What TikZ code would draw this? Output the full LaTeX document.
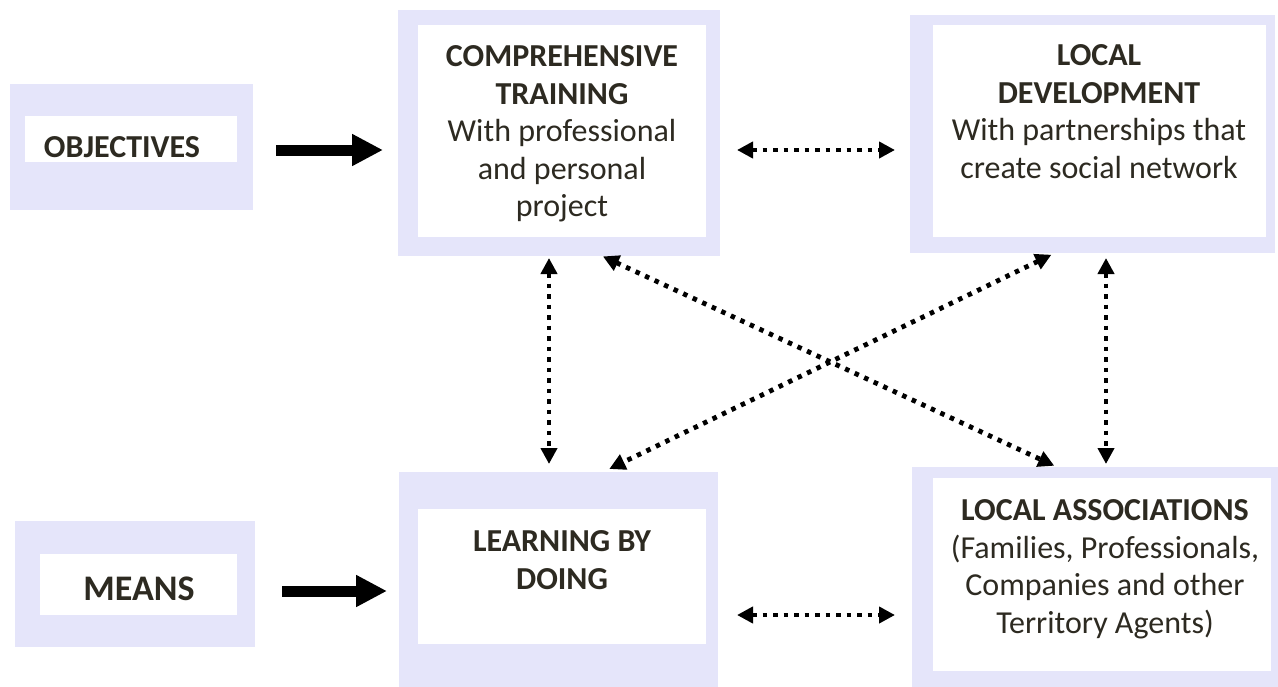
\documentclass[tikz,border=0pt]{standalone}
\usepackage{fontspec}
\setmainfont{Carlito}
\usetikzlibrary{arrows.meta}
\definecolor{lav}{RGB}{229,229,250}
\definecolor{ink}{RGB}{45,42,33}
\begin{document}
\begin{tikzpicture}[x=1pt,y=-1pt,
  outerbox/.style={fill=lav,draw=none,inner sep=0,anchor=north west,outer sep=0},
  innerbox/.style={fill=white,draw=none,inner sep=0,anchor=north west,outer sep=0},
  boxtext/.style={inner sep=0,align=center,text=ink,font=\fontsize{32}{37.5}\selectfont},
  bigarrow/.style={line width=11pt,-{Triangle[length=31pt,width=30pt]}},
  dotarrow/.style={line width=4.8pt,dash pattern=on 4.5pt off 6pt,
    {Triangle[length=16pt,width=16pt]}-{Triangle[length=16pt,width=16pt]}}]
\useasboundingbox (0,0) rectangle (1278,686);
\clip (0,0) rectangle (1278,686);
% outer lavender boxes
\node[outerbox,minimum width=243pt,minimum height=126pt] (objO) at (10,84) {};
\node[outerbox,minimum width=322pt,minimum height=246pt] (ctO) at (398,10) {};
\node[outerbox,minimum width=365pt,minimum height=238pt] (ldO) at (910,15) {};
\node[outerbox,minimum width=240pt,minimum height=126pt] (mnO) at (15,521) {};
\node[outerbox,minimum width=319pt,minimum height=230pt] (lbO) at (399,472) {};
\node[outerbox,minimum width=380pt,minimum height=230pt] (laO) at (912,467) {};
% inner white boxes
\node[innerbox,minimum width=212pt,minimum height=46pt] (objI) at (25,116) {};
\node[innerbox,minimum width=288pt,minimum height=212pt] (ctI) at (418,25) {};
\node[innerbox,minimum width=333pt,minimum height=212pt] (ldI) at (933,25) {};
\node[innerbox,minimum width=197pt,minimum height=61pt] (mnI) at (40,554) {};
\node[innerbox,minimum width=288pt,minimum height=135pt] (lbI) at (418,509) {};
\node[innerbox,minimum width=338pt,minimum height=193pt] (laI) at (933,478) {};
% texts
\node[boxtext,anchor=base] (objT) at (122,157) {\bfseries OBJECTIVES};
\node[boxtext,anchor=base,font=\fontsize{36}{40}\selectfont] (mnT) at (139,600) {\bfseries MEANS};
\node[boxtext,anchor=north] (ctT) at (562,45.4) {\bfseries COMPREHENSIVE\\\bfseries TRAINING\\With professional\\and personal\\project};
\node[boxtext,anchor=north] (ldT) at (1099,44.4) {\bfseries LOCAL\\\bfseries DEVELOPMENT\\With partnerships that\\create social network};
\node[boxtext,anchor=north] (lbT) at (562,530.4) {\bfseries LEARNING BY\\\bfseries DOING};
\node[boxtext,anchor=north] (laT) at (1105,499.4) {\bfseries LOCAL ASSOCIATIONS\\(Families, Professionals,\\Companies and other\\Territory Agents)};
% solid arrows
\draw[bigarrow,shorten <=23pt,shorten >=15pt] (objO.east |- 0,150) -- (ctO.west |- 0,150);
\draw[bigarrow,shorten <=27pt,shorten >=12pt] (mnO.east |- 0,591) -- (lbO.west |- 0,591);
% dotted double arrows
\draw[dotarrow,shorten <=17pt,shorten >=15pt] (ctO.east |- 0,150) -- (ldO.west |- 0,150);
\draw[dotarrow,shorten <=19pt,shorten >=17pt] (lbO.east |- 0,615) -- (laO.west |- 0,615);
\draw[dotarrow,shorten <=2pt,shorten >=8pt] (ctO.south -| 549,0) -- (lbO.north -| 549,0);
\draw[dotarrow,shorten <=5pt,shorten >=3pt] (ldO.south -| 1106,0) -- (laO.north -| 1106,0);
\draw[dotarrow,shorten <=1pt,shorten >=3pt] (ctO.south -| 602,0) -- (laO.north -| 1057,0);
\draw[dotarrow,shorten <=4pt,shorten >=7pt] (ldO.south -| 1055,0) -- (lbO.north -| 603,0);
\end{tikzpicture}
\end{document}
